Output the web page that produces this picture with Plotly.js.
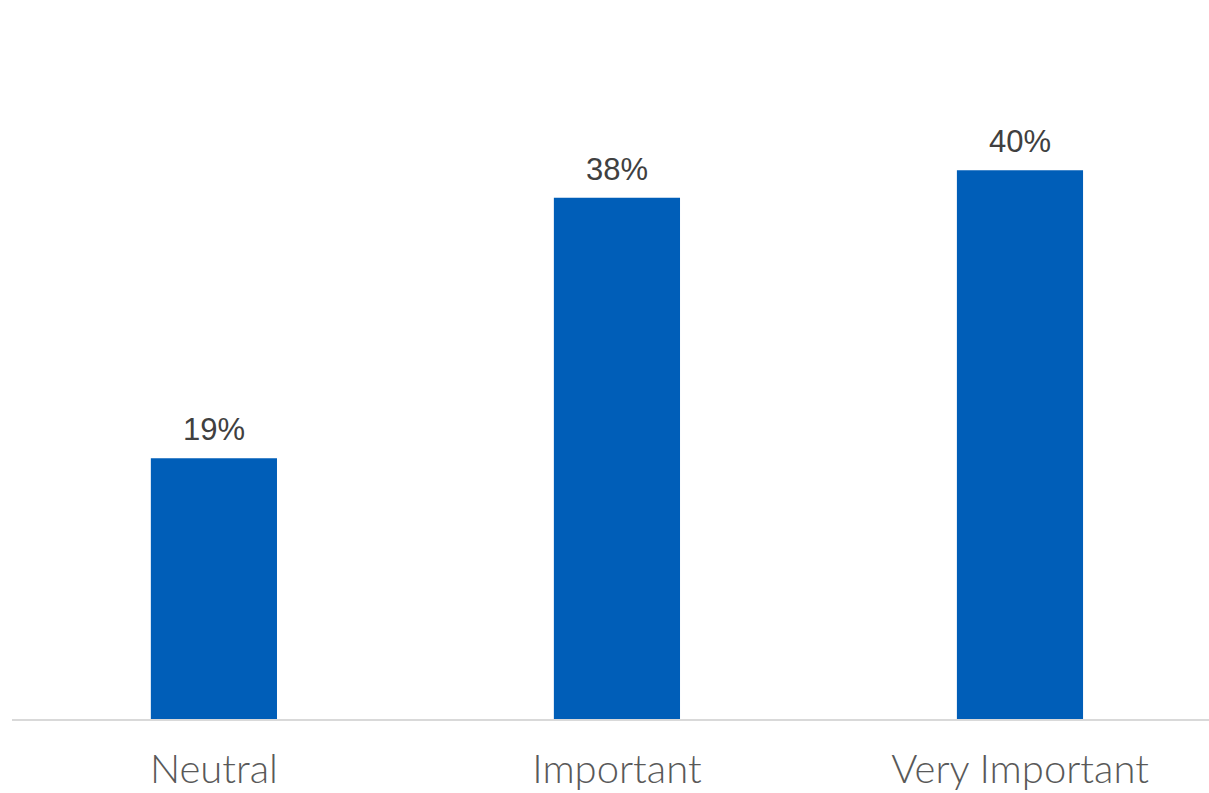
<!DOCTYPE html>
<html>
<head>
<meta charset="utf-8">
<script src="https://cdn.plot.ly/plotly-3.0.1.min.js"></script>
<style>html,body{margin:0;padding:0;background:#fff;}#chart{width:1209px;height:793px;}</style>
</head>
<body>
<div id="chart"></div>
<script>
const categories = ["Neutral", "Important", "Very Important"];
const values = [0.19, 0.38, 0.40];
const labels = ["19%", "38%", "40%"];

const trace = {
  type: "bar",
  x: categories,
  y: values,
  marker: {color: "#005EB8"},
  hoverinfo: "skip"
};

const annotations = categories.map((c, i) => ({
  x: c, y: values[i], text: labels[i], showarrow: false,
  xref: "x", yref: "y", yanchor: "bottom", yshift: 9,
  font: {family: "Liberation Sans, Arial, sans-serif", size: 31, color: "#404040"}
}));

const layout = {
  width: 1209, height: 793,
  margin: {l: 12, r: 0, t: 33, b: 74},
  paper_bgcolor: "#ffffff", plot_bgcolor: "#ffffff",
  showlegend: false,
  bargap: 0.687,
  xaxis: {
    range: [-0.501, 2.469],
    showline: true, linecolor: "#d9d9d9", linewidth: 2,
    showgrid: false, zeroline: false, ticks: "",
    tickfont: {family: "Lato, 'Noto Sans', sans-serif", size: 40, color: "#595959", weight: 300},
    ticklabelstandoff: 14
  },
  yaxis: {
    range: [0, 0.5], visible: false, showgrid: false, zeroline: false
  },
  annotations: annotations
};

Plotly.newPlot("chart", [trace], layout, {displayModeBar: false, staticPlot: true});
</script>
</body>
</html>
